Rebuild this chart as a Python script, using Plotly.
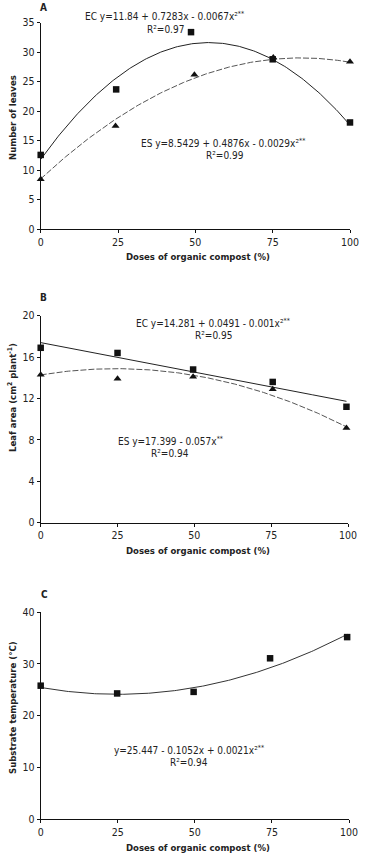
import numpy as np
import plotly.graph_objects as go

FONT = "Liberation Sans Narrow, DejaVu Sans Condensed, Arial Narrow, Liberation Sans, sans-serif"

# Panel A - number of leaves
a_ec_x = [0, 24.4, 48.6, 75, 100]
a_ec_y = [12.6, 23.7, 33.4, 28.8, 18.1]
a_es_x = [0, 24.2, 49.7, 75.2, 100]
a_es_y = [8.5, 17.5, 26.2, 29.1, 28.4]
a_ec_coef = [11.84, 0.7283, -0.0067]
a_es_coef = [8.5429, 0.4876, -0.0029]

# Panel B - leaf area
b_ec_x = [0, 25, 49.6, 75.5, 99.5]
b_ec_y = [16.9, 16.4, 14.8, 13.6, 11.2]
b_es_x = [0, 25, 49.6, 75.5, 99.5]
b_es_y = [14.3, 13.9, 14.1, 12.9, 9.15]
b_solid_coef = [17.399, -0.057, 0.0]
b_dash_coef = [14.281, 0.0491, -0.001]

# Panel C - substrate temperature
c_x = [0, 24.8, 49.6, 74.4, 99.4]
c_y = [25.8, 24.3, 24.6, 31.1, 35.2]
c_coef = [25.447, -0.1052, 0.0021]

x_ticks = [0, 25, 50, 75, 100]


def poly(coef, x):
    return coef[0] + coef[1] * x + coef[2] * x ** 2


W, H = 382, 855
fig = go.Figure()

panels = [
    # (xaxis, yaxis, left, right, top, bottom, yrange, ydtick)
    ("x", "y", 40.7, 350, 22.7, 229.3, [0, 35], 5),
    ("x2", "y2", 40.7, 348, 315.7, 522.7, [0, 20], 4),
    ("x3", "y3", 40.7, 349, 612.3, 819, [0, 40], 10),
]

xs = np.linspace(0, 100, 200)
xs_b = np.linspace(0, 99.5, 200)
xs_c = np.linspace(0, 99.4, 200)

solid = dict(color="#222222", width=1)
dashed = dict(color="#555555", width=1, dash="6px,2px")
sq = dict(symbol="square", size=6.5, color="#111111")
tri = dict(symbol="triangle-up", size=7, color="#111111")

def add(x, y, xa, ya, **kw):
    fig.add_trace(go.Scatter(x=x, y=y, xaxis=xa, yaxis=ya, cliponaxis=False, **kw))

# Panel A
add(xs, poly(a_ec_coef, xs), "x", "y", mode="lines", line=solid)
add(xs, poly(a_es_coef, xs), "x", "y", mode="lines", line=dashed)
add(a_ec_x, a_ec_y, "x", "y", mode="markers", marker=sq)
add(a_es_x, a_es_y, "x", "y", mode="markers", marker=tri)

# Panel B
add(xs_b, poly(b_solid_coef, xs_b), "x2", "y2", mode="lines", line=solid)
add(xs_b, poly(b_dash_coef, xs_b), "x2", "y2", mode="lines", line=dashed)
add(b_ec_x, b_ec_y, "x2", "y2", mode="markers", marker=sq)
add(b_es_x, b_es_y, "x2", "y2", mode="markers", marker=tri)

# Panel C
add(xs_c, poly(c_coef, xs_c), "x3", "y3", mode="lines", line=dict(color="#333333", width=1))
add(c_x, c_y, "x3", "y3", mode="markers", marker=sq)

layout = dict(
    width=W, height=H, margin=dict(l=0, r=0, t=0, b=0, autoexpand=False),
    paper_bgcolor="white", plot_bgcolor="white", showlegend=False,
    font=dict(family=FONT, size=10, color="#222222"),
)

for i, (xa, ya, l, r, t, b, yr, dt) in enumerate(panels):
    xk = "xaxis" if xa == "x" else "xaxis" + xa[1:]
    yk = "yaxis" if ya == "y" else "yaxis" + ya[1:]
    layout[xk] = dict(
        domain=[l / W, r / W], range=[0, 100], tickvals=x_ticks,
        showline=True, linecolor="#111111", linewidth=1, ticks="outside",
        ticklen=3, tickcolor="#111111", showgrid=False, zeroline=False,
        anchor=ya, automargin=False, fixedrange=True,
        tickfont=dict(size=10.5, family=FONT, color="#222222"),
    )
    layout[yk] = dict(
        domain=[1 - b / H, 1 - t / H], range=yr, dtick=dt,
        showline=True, linecolor="#111111", linewidth=1, ticks="outside",
        ticklen=3, tickcolor="#111111", showgrid=False, zeroline=False,
        anchor=xa, automargin=False, fixedrange=True,
        tickfont=dict(size=10.5, family=FONT, color="#222222"),
    )

annotations = []


def txt(x, y, s, size=10, bold=False, angle=0):
    annotations.append(dict(
        x=x / W, y=1 - y / H, xref="paper", yref="paper",
        text=("<b>%s</b>" % s) if bold else s, textangle=angle,
        showarrow=False, xanchor="center", yanchor="middle",
        font=dict(size=size, family=FONT, color="#222222"),
    ))


# panel letters
txt(43, 8, "A", bold=True, size=10)
txt(43, 297, "B", bold=True, size=10)
txt(44, 594, "C", bold=True, size=10)

# axis titles
txt(198, 256, "Doses of organic compost (%)", bold=True, size=9.5)
txt(198, 550, "Doses of organic compost (%)", bold=True, size=9.5)
txt(198, 847, "Doses of organic compost (%)", bold=True, size=9.5)
txt(12, 118, "Number of leaves", bold=True, size=9.5, angle=-90)
txt(12, 398, "Leaf area (cm<sup>2</sup> plant<sup>-1</sup>)", bold=True, size=9.5, angle=-90)
txt(12, 708, "Substrate temperature (°C)", bold=True, size=9.5, angle=-90)

# equations
txt(164, 16, "EC y=11.84 + 0.7283x - 0.0067x²<sup>**</sup>")
txt(165, 29, "R²=0.97")
txt(223, 143, "ES y=8.5429 + 0.4876x - 0.0029x²<sup>**</sup>")
txt(225, 155.5, "R²=0.99")

txt(213, 323, "EC y=14.281 + 0.0491 - 0.001x²<sup>**</sup>")
txt(213, 335, "R²=0.95")
txt(170, 441, "ES y=17.399 - 0.057x<sup>**</sup>")
txt(170, 453, "R²=0.94")

txt(189, 750, "y=25.447 - 0.1052x + 0.0021x²<sup>**</sup>")
txt(189, 762, "R²=0.94")

layout["annotations"] = annotations
fig.update_layout(**layout)
fig.write_html(
    "out.html",
    config={"displayModeBar": False},
    post_script="document.body.style.margin='0px';document.body.style.padding='0px';",
)
